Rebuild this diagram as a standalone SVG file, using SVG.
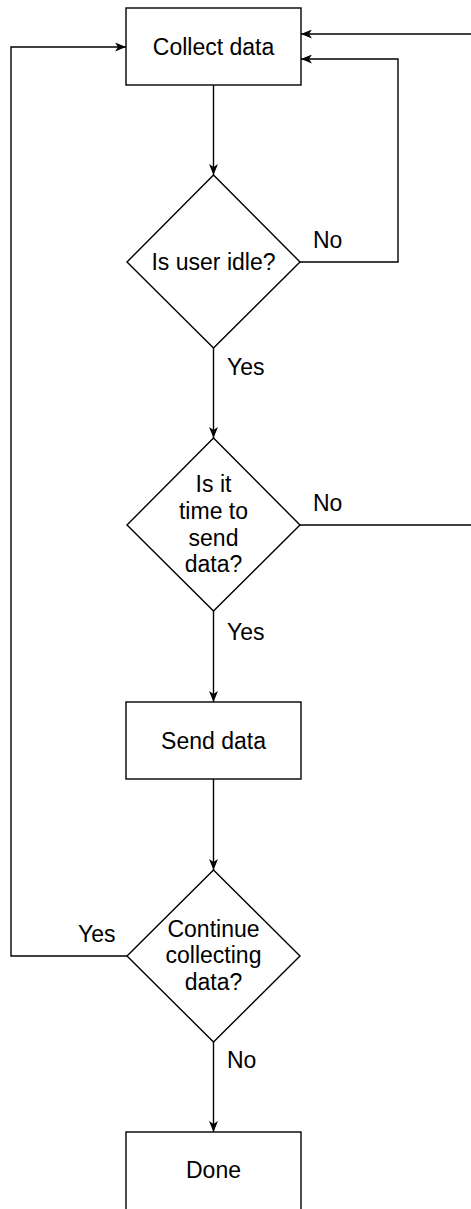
<svg xmlns="http://www.w3.org/2000/svg" width="471" height="1209" viewBox="0 0 471 1209">
<style>
.shape{fill:#fff;stroke:#000;stroke-width:1.4}
.edge{fill:none;stroke:#000;stroke-width:1.4}
text{font-family:"Liberation Sans",Arial,sans-serif;font-size:23px;fill:#000}
.c{text-anchor:middle}
</style>
<defs>
<marker id="arr" viewBox="0 0 11 9" refX="11" refY="4.5" markerWidth="11" markerHeight="9" markerUnits="userSpaceOnUse" orient="auto">
<path d="M0,0 L11,4.5 L0,9 L3,4.5 Z" fill="#000"/>
</marker>
</defs>
<g id="connectors">
<path class="edge" d="M213.5,85 V175" marker-end="url(#arr)"/>
<path class="edge" d="M300,262 H398 V59 H301" marker-end="url(#arr)"/>
<path class="edge" d="M213.5,348 V438" marker-end="url(#arr)"/>
<path class="edge" d="M300,525 H480"/>
<path class="edge" d="M480,34 H301" marker-end="url(#arr)"/>
<path class="edge" d="M213.5,611 V702" marker-end="url(#arr)"/>
<path class="edge" d="M213.5,779 V870" marker-end="url(#arr)"/>
<path class="edge" d="M127,956 H11 V47 H126" marker-end="url(#arr)"/>
<path class="edge" d="M213.5,1042 V1132" marker-end="url(#arr)"/>
<text x="313" y="248">No</text>
<text x="227" y="375">Yes</text>
<text x="313" y="511">No</text>
<text x="227" y="640">Yes</text>
<text x="78" y="942">Yes</text>
<text x="227" y="1068">No</text>
</g>
<g id="collect">
<rect class="shape" x="126" y="8" width="175" height="77"/>
<text class="c" x="213.5" y="55">Collect data</text>
</g>
<g id="idle">
<path class="shape" d="M213.5,175 L300,262 L213.5,348 L127,262 Z"/>
<text class="c" x="213.5" y="270">Is user idle?</text>
</g>
<g id="time">
<path class="shape" d="M213.5,438 L300,525 L213.5,611 L127,525 Z"/>
<text class="c" x="213.5" y="492">Is it</text>
<text class="c" x="213.5" y="519">time to</text>
<text class="c" x="213.5" y="546">send</text>
<text class="c" x="213.5" y="572">data?</text>
</g>
<g id="send">
<rect class="shape" x="126" y="702" width="175" height="77"/>
<text class="c" x="213.5" y="749">Send data</text>
</g>
<g id="continue">
<path class="shape" d="M213.5,870 L300,956 L213.5,1042 L127,956 Z"/>
<text class="c" x="213.5" y="937">Continue</text>
<text class="c" x="213.5" y="963">collecting</text>
<text class="c" x="213.5" y="990">data?</text>
</g>
<g id="done">
<rect class="shape" x="126" y="1132" width="175" height="100"/>
<text class="c" x="213.5" y="1178">Done</text>
</g>
</svg>
